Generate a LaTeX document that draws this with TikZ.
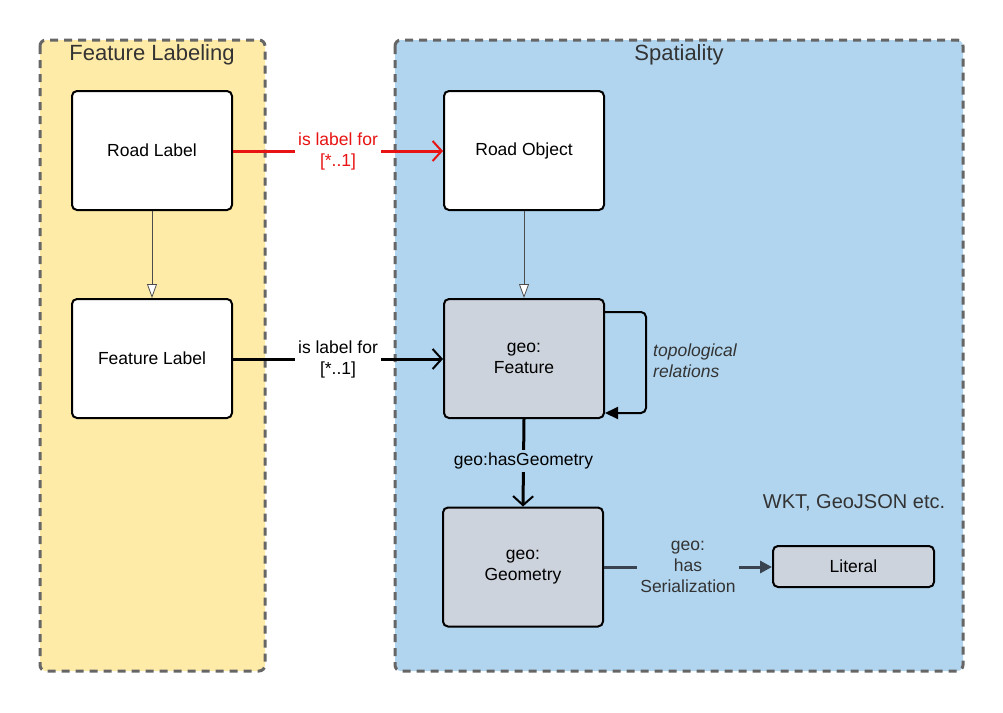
\documentclass[tikz,border=0pt]{standalone}
\usepackage{fontspec}
\setmainfont{Liberation Sans}
\usetikzlibrary{arrows.meta,positioning}
\definecolor{yel}{HTML}{FFEBA8}
\definecolor{blu}{HTML}{B1D5EF}
\definecolor{gbox}{HTML}{CDD3DC}
\definecolor{dgray}{HTML}{666666}
\definecolor{txtgray}{HTML}{333333}
\definecolor{serline}{HTML}{3A4350}
\definecolor{redl}{HTML}{E81313}
\tikzset{
  container/.style={draw=dgray, line width=3pt, dash pattern=on 8pt off 6pt, rounded corners=6pt},
  cls/.style={draw=black, line width=2pt, rounded corners=5pt, minimum width=160pt, minimum height=119pt, align=center, font=\fontsize{17.5}{21}\selectfont},
  ttl/.style={text=txtgray, font=\fontsize{22}{26}\selectfont},
  lbl/.style={align=center, font=\fontsize{17.5}{21}\selectfont, inner sep=3pt},
  inherit/.style={draw=black!70, line width=0.8pt, -{Triangle[open, length=14pt, width=10pt, fill=white]}},
  assoc/.style={line width=3pt, -{Straight Barb[length=9pt, width=20pt, line width=2pt]}},
}
\begin{document}
\begin{tikzpicture}[x=1pt,y=-1pt]
\useasboundingbox (0,0) rectangle (1003,712);
% containers
\draw[container, fill=yel] (40,40) rectangle (265,671);
\draw[container, fill=blu] (395,40) rectangle (963,671);
\node[ttl] (t1) at (152,55) {Feature Labeling};
\node[ttl] (t2) at (679,55) {Spatiality};
% classes
\node[cls, fill=white] (rl) at (152,150.5) {Road Label};
\node[cls, fill=white] (fl) at (152,358.5) {Feature Label};
\node[cls, fill=white] (ro) at (524,150.5) {Road Object};
\node[cls, fill=gbox] (gf) at (524,358.5) {geo:\\Feature};
\node[cls, fill=gbox] (gg) at (523,567) {geo:\\Geometry};
\node[cls, fill=gbox, minimum width=161pt, minimum height=41pt] (lit) at (853.5,566.5) {Literal};
\node[text=txtgray, font=\fontsize{20}{24}\selectfont] (wkt) at (854,503) {WKT, GeoJSON etc.};
% inheritance
\draw[inherit] (rl.south) -- (fl.north);
\draw[inherit] (ro.south) -- (gf.north);
% associations
\draw[assoc, draw=redl] (rl.east |- 0,151) -- node[lbl, fill=white, text=redl] {is label for\\{[*..1]}} (ro.west |- 0,151);
\draw[assoc, draw=black] (fl.east |- 0,359) -- node[lbl, fill=white] {is label for\\{[*..1]}} (gf.west |- 0,359);
% self loop
\draw[line width=2pt, rounded corners=5pt, -{Triangle[length=13pt, width=12pt]}] ([yshift=-14pt]gf.north east) -- ++(41,0) |- ([yshift=6pt]gf.south east);
\node[lbl, anchor=west, text=txtgray, font=\fontsize{17.5}{21}\itshape\selectfont, align=left] (topo) at (650,361) {topological\\relations};
% hasGeometry
\draw[assoc, draw=black] (gf.south) -- node[lbl, fill=blu, pos=0.48] {geo:hasGeometry} (gg.north);
% hasSerialization
\draw[line width=3pt, draw=serline, -{Triangle[length=12pt, width=12pt]}] (gg.east |- 0,567) -- node[lbl, fill=blu, text=txtgray, pos=0.5] {geo:\\has\\Serialization} (lit.west |- 0,567);
\end{tikzpicture}
\end{document}
